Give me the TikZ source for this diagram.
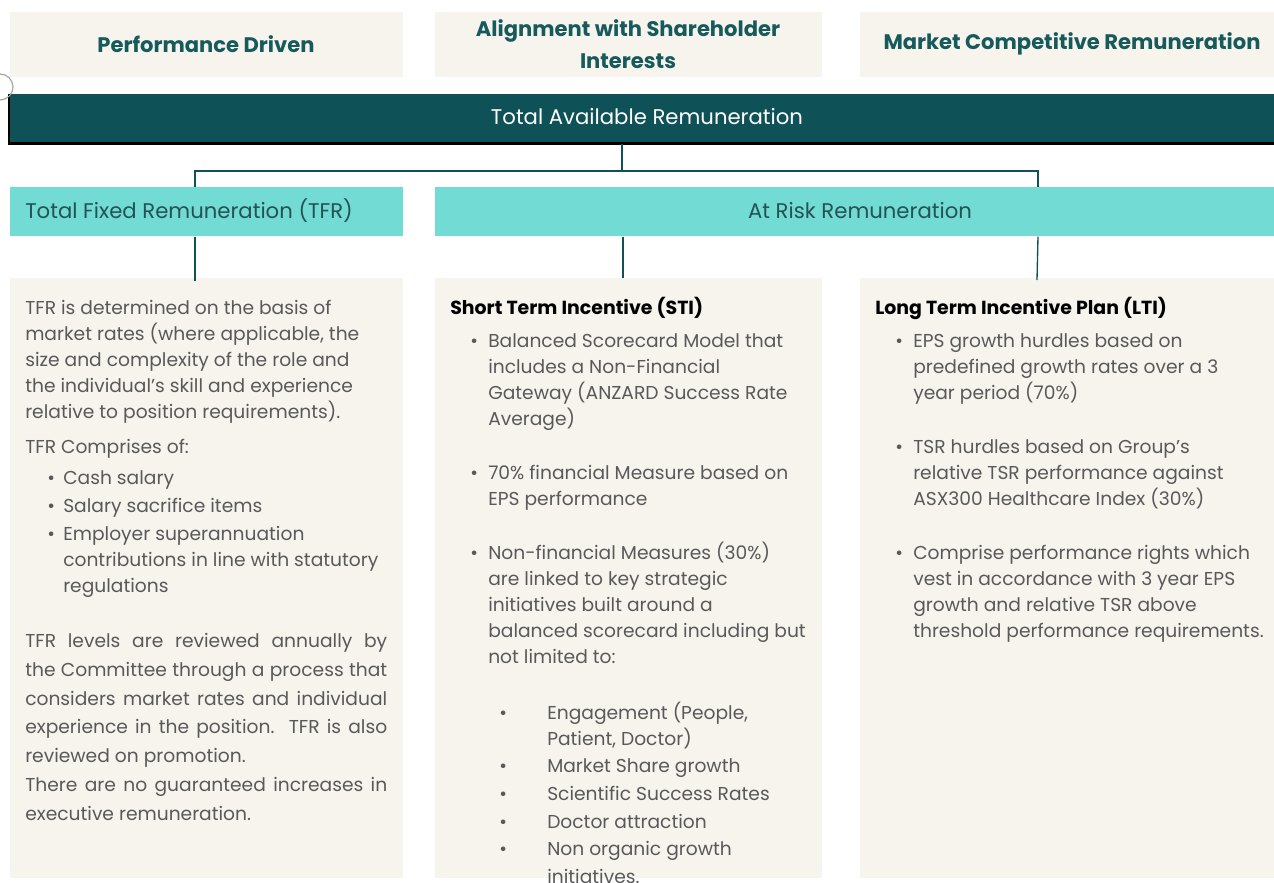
\documentclass[tikz,border=0pt]{standalone}
\usepackage{fontspec}
\setmainfont{Poppins}
\definecolor{cream}{HTML}{F7F4EE}
\definecolor{darkteal}{HTML}{0E5157}
\definecolor{lightteal}{HTML}{72DBD4}
\definecolor{headteal}{HTML}{165A5C}
\definecolor{boxtext}{HTML}{245256}
\definecolor{bodygray}{HTML}{595959}
\newcounter{lnc}
\newcommand\Tx[4][]{\stepcounter{lnc}\node[txt,#1] (l\arabic{lnc}) at (#2,#3) {#4};}
\newcommand\Jx[3]{\Tx{#1}{#2}{\makebox[271.5pt][s]{#3}}}
\begin{document}
\begin{tikzpicture}[x=0.75pt,y=-0.75pt,
  cbox/.style={fill=cream, draw=none, anchor=north west, inner sep=0, minimum height=#1},
  pillar/.style={font=\fontsize{15.8}{24}\selectfont\bfseries, text=headteal, align=center},
  tealbox/.style={fill=lightteal, draw=none, anchor=north west, inner sep=0, minimum height=36.75pt},
  conn/.style={draw=darkteal, line width=1pt},
  txt/.style={anchor=base west, inner sep=0, font=\fontsize{14}{19}\selectfont, text=bodygray},
  hdr/.style={txt, font=\fontsize{14.2}{19}\selectfont\bfseries, text=black}]
\useasboundingbox (0,0) rectangle (1274,882);
% pillar boxes
\node[cbox=48.75pt, minimum width=294.75pt] (p1) at (10,12) {};
\node[cbox=48.75pt, minimum width=290.25pt] (p2) at (435,12) {};
\node[cbox=48.75pt, minimum width=312pt] (p3) at (860,12) {};
\node[pillar] (p1t) at (206,44) {Performance Driven};
\node[pillar] (p2t) at (628,44) {Alignment with Shareholder\\Interests};
\node[pillar] (p3t) at (1072,44) {Market Competitive Remuneration};
% total available bar
\node[fill=darkteal, anchor=north west, inner sep=0, minimum width=948.75pt, minimum height=36.75pt] (tar) at (9,94) {};
\draw[black, line width=1.6pt] (tar.north west) -- (tar.south west) -- (tar.south east);
\node[font=\fontsize{15.9}{18}\selectfont, text=white] (tart) at (647,117) {Total Available Remuneration};
\draw[gray!70, line width=0.9pt] (0,87) circle[radius=13];
% teal boxes
\node[tealbox, minimum width=294.75pt] (tfr) at (10,187) {};
\node[tealbox, minimum width=629.25pt] (atrisk) at (435,187) {};
\node[font=\fontsize{15.9}{18}\selectfont, text=boxtext, anchor=west, inner sep=0] (tfrt) at (25,211) {Total Fixed Remuneration (TFR)};
\node[font=\fontsize{15.9}{18}\selectfont, text=boxtext] (atriskt) at (860,211) {At Risk Remuneration};
% content boxes
\node[cbox=450pt, minimum width=294.75pt] (c1) at (10,278) {};
\node[cbox=450pt, minimum width=290.25pt] (c2) at (435,278) {};
\node[cbox=450pt, minimum width=312pt] (c3) at (860,278) {};
% connectors
\coordinate (aL) at (195,171);
\coordinate (aM) at (622,171);
\coordinate (aR) at (1038,171);
\draw[conn] (tar.south -| aM) -- (aM);
\draw[conn] (tfr.north -| aL) -- (aL) -- (aR) -- (atrisk.north -| aR);
\draw[conn] (tfr.south -| aL) -- ([yshift=-2.25pt]c1.north -| aL);
\draw[conn] (atrisk.south -| 623,0) -- (c2.north -| 623,0);
\draw[conn] (atrisk.south -| aR) -- ([xshift=-0.75pt,yshift=-1.5pt]c3.north -| aR);
% left column text
\Tx{25}{314}{TFR is determined on the basis of}
\Tx{25}{340}{market rates (where applicable, the}
\Tx{25}{366}{size and complexity of the role and}
\Tx{25}{392}{the individual’s skill and experience}
\Tx{25}{418}{relative to position requirements).}
\Tx{25}{453}{TFR Comprises of:}
\Tx{47}{484}{•}\Tx{63}{484}{Cash salary}
\Tx{47}{512}{•}\Tx{63}{512}{Salary sacrifice items}
\Tx{47}{540}{•}\Tx{63}{540}{Employer superannuation}
\Tx{63}{566}{contributions in line with statutory}
\Tx{63}{592}{regulations}
\Jx{25}{647}{TFR levels are reviewed annually by}
\Jx{25}{676}{the Committee through a process that}
\Jx{25}{705}{considers market rates and individual}
\Jx{25}{733}{experience in the position.\ \ TFR is also}
\Tx{25}{762}{reviewed on promotion.}
\Jx{25}{791}{There are no guaranteed increases in}
\Tx{25}{820}{executive remuneration.}
% middle column
\Tx[hdr]{450}{314}{Short Term Incentive (STI)}
\Tx{470}{347}{•}\Tx{488}{347}{Balanced Scorecard Model that}
\Tx{488}{373}{includes a Non-Financial}
\Tx{488}{399}{Gateway (ANZARD Success Rate}
\Tx{488}{425}{Average)}
\Tx{470}{479}{•}\Tx{488}{479}{70\% financial Measure based on}
\Tx{488}{505}{EPS performance}
\Tx{470}{559}{•}\Tx{488}{559}{Non-financial Measures (30\%)}
\Tx{488}{585}{are linked to key strategic}
\Tx{488}{611}{initiatives built around a}
\Tx{488}{637}{balanced scorecard including but}
\Tx{488}{663}{not limited to:}
\Tx{499}{719}{•}\Tx{547}{719}{Engagement (People,}
\Tx{547}{745}{Patient, Doctor)}
\Tx{499}{772}{•}\Tx{547}{772}{Market Share growth}
\Tx{499}{800}{•}\Tx{547}{800}{Scientific Success Rates}
\Tx{499}{828}{•}\Tx{547}{828}{Doctor attraction}
\Tx{499}{855}{•}\Tx{547}{855}{Non organic growth}
\Tx{547}{883}{initiatives.}
% right column
\Tx[hdr]{875}{314}{Long Term Incentive Plan (LTI)}
\Tx{895}{347}{•}\Tx{913}{347}{EPS growth hurdles based on}
\Tx{913}{373}{predefined growth rates over a 3}
\Tx{913}{399}{year period (70\%)}
\Tx{895}{453}{•}\Tx{913}{453}{TSR hurdles based on Group’s}
\Tx{913}{479}{relative TSR performance against}
\Tx{913}{505}{ASX300 Healthcare Index (30\%)}
\Tx{895}{559}{•}\Tx{913}{559}{Comprise performance rights which}
\Tx{913}{585}{vest in accordance with 3 year EPS}
\Tx{913}{611}{growth and relative TSR above}
\Tx{913}{637}{threshold performance requirements.}
\end{tikzpicture}
\end{document}
